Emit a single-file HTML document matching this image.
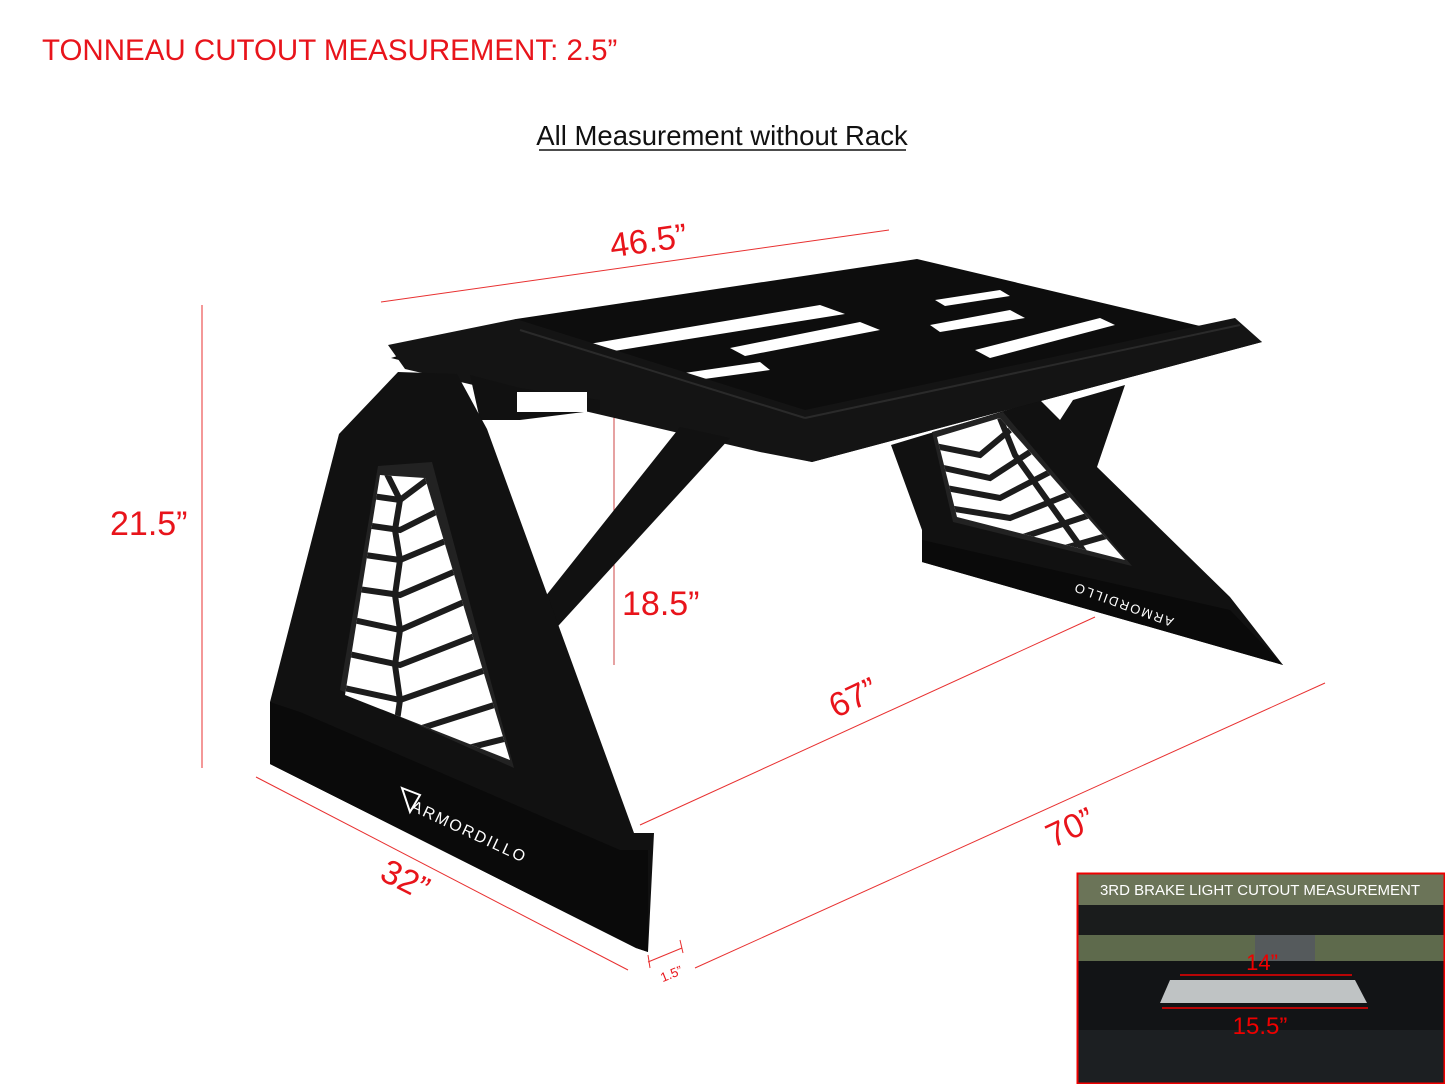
<!DOCTYPE html>
<html><head><meta charset="utf-8"><style>
html,body{margin:0;padding:0;background:#fff;}
svg{display:block;}
text{font-family:"Liberation Sans",sans-serif;}
</style></head><body>
<svg width="1445" height="1084" viewBox="0 0 1445 1084" xmlns="http://www.w3.org/2000/svg">
<rect width="1445" height="1084" fill="#fff"/>
<text x="42" y="60" font-size="29.5" fill="#e8141b">TONNEAU CUTOUT MEASUREMENT: 2.5”</text>
<text x="722" y="145" font-size="27.5" fill="#111" text-anchor="middle">All Measurement without Rack</text>
<line x1="539" y1="150" x2="906" y2="150" stroke="#111" stroke-width="1.5"/>

<g stroke="#e83030" stroke-width="1" fill="none">
<line x1="381" y1="302" x2="889" y2="230"/>
<line x1="202" y1="305" x2="202" y2="768"/>
<line x1="614" y1="415" x2="614" y2="665" stroke="#c44"/>
<line x1="640" y1="825" x2="1095" y2="617"/>
<line x1="695" y1="968" x2="1325" y2="683"/>
<line x1="256" y1="777" x2="628" y2="970"/>
<line x1="648" y1="962" x2="682" y2="948"/>
<line x1="648" y1="955" x2="650" y2="968"/><line x1="680" y1="940" x2="683" y2="953"/>
</g>
<g fill="#e8141b" font-size="34">
<text x="650" y="252" text-anchor="middle" transform="rotate(-8 650 252)">46.5”</text>
<text x="110" y="535">21.5”</text>
<text x="622" y="615">18.5”</text>
<text x="858" y="708" text-anchor="middle" transform="rotate(-25 858 708)">67”</text>
<text x="1075" y="838" text-anchor="middle" transform="rotate(-25 1075 838)">70”</text>
<text x="400" y="890" text-anchor="middle" transform="rotate(27 400 890)">32”</text>
<text x="673" y="978" font-size="13" text-anchor="middle" transform="rotate(-22 673 978)">1.5”</text>
</g>

<!-- right leg (behind) -->
<polygon points="891,445 1040,400 1060,420 1073,400 1125,385 1097,467 1230,597 1283,665 922,562 922,530" fill="#111"/>
<polygon points="922,540 1230,610 1283,665 922,562" fill="#0a0a0a"/>
<polygon points="932,432 1003,412 1132,566 953,522" fill="#222"/>
<clipPath id="cr"><polygon points="937,437 1000,418 1125,560 957,517"/></clipPath>
<g clip-path="url(#cr)">
<rect x="930" y="405" width="200" height="165" fill="#fff"/>
<g stroke="#1c1c1c" stroke-width="6" fill="none">
<path d="M930,445 L980,455 L1010,430"/>
<path d="M930,465 L990,478 L1030,452"/>
<path d="M930,485 L1000,498 L1050,472"/>
<path d="M930,505 L1010,518 L1070,494"/>
<path d="M930,525 L1020,538 L1090,515"/>
<path d="M930,545 L1030,558 L1110,535"/>
<path d="M1000,418 L1015,455 L1040,490 L1065,525 L1090,560"/>
</g>
</g>
<text x="1118" y="598" font-size="13" fill="#fff" transform="rotate(200 1118 598) translate(-60 0)" letter-spacing="2">ARMORDILLO</text>

<!-- rack top frame -->
<polygon points="516,319 917,259 1259,340 1262,342 812,462 391,358" fill="#0d0d0d"/>
<g fill="#fff">
<polygon points="583,345 820,305 845,314 608,352"/>
<polygon points="650,378 760,362 770,370 660,385"/>
<polygon points="930,325 1010,310 1025,318 940,332"/>
<polygon points="975,350 1100,318 1115,325 990,358"/>
<polygon points="730,348 860,322 880,330 745,356"/>
<polygon points="935,300 1000,290 1010,296 945,306"/>
</g>
<polygon points="388,345 516,319 805,410 1235,318 1262,342 812,462 760,452 405,369" fill="#141414"/>
<line x1="520" y1="330" x2="805" y2="418" stroke="#2a2a2a" stroke-width="2"/>
<line x1="805" y1="418" x2="1240" y2="325" stroke="#2a2a2a" stroke-width="2"/>

<polygon points="470,375 520,388 600,400 600,410 520,420 480,420" fill="#111"/>
<rect x="517" y="392" width="70" height="20" fill="#fff"/>

<polygon points="680,427 730,438 549,636 529,617" fill="#111"/>

<!-- left upright -->
<polygon points="339,434 398,372 457,374 487,429 634,833 654,833 648,952 636,948 270,764 270,702" fill="#111"/>
<polygon points="270,702 300,712 620,850 648,850 648,952 636,948 270,764" fill="#0a0a0a"/>
<polygon points="378,466 432,462 514,768 340,690" fill="#222"/>
<clipPath id="cl"><polygon points="380,475 425,478 510,760 345,695"/></clipPath>
<g clip-path="url(#cl)">
<rect x="330" y="460" width="200" height="310" fill="#fff"/>
<g stroke="#1c1c1c" stroke-width="6" fill="none">
<path d="M330,490 L400,500 L440,470"/>
<path d="M330,520 L400,530 L450,505"/>
<path d="M330,550 L400,560 L460,535"/>
<path d="M330,585 L400,595 L470,565"/>
<path d="M330,615 L400,630 L480,595"/>
<path d="M330,650 L400,665 L490,630"/>
<path d="M330,685 L400,700 L500,665"/>
<path d="M330,720 L400,735 L510,700"/>
<path d="M330,750 L400,765 L520,735"/>
<path d="M385,470 L400,500 L395,530 L400,560 L395,595 L400,630 L395,665 L400,700 L395,735"/>
<path d="M430,470 L440,510 L450,540 L460,570 L470,600 L480,635 L490,665 L500,700 L510,735"/>
</g>
</g>
<text x="410" y="810" font-size="16" fill="#fff" transform="rotate(25 410 810)" letter-spacing="2">ARMORDILLO</text>
<polygon points="402,788 420,795 410,812" fill="none" stroke="#fff" stroke-width="2"/>

<!-- inset -->
<rect x="1077" y="873" width="368" height="211" fill="#5a6448"/>
<rect x="1077" y="873" width="368" height="35" fill="#6b7458"/>
<rect x="1077" y="905" width="368" height="30" fill="#1a1c1c"/>
<rect x="1077" y="935" width="368" height="28" fill="#5e6a4c"/>
<rect x="1255" y="935" width="60" height="28" fill="#555a5c"/>
<rect x="1077" y="961" width="368" height="123" fill="#121416"/>
<rect x="1077" y="1030" width="368" height="54" fill="#1c1f22"/>
<polygon points="1170,980 1355,980 1367,1003 1160,1003" fill="#bfc3c4"/>
<line x1="1180" y1="975" x2="1352" y2="975" stroke="#e00" stroke-width="1.5"/>
<line x1="1162" y1="1008" x2="1368" y2="1008" stroke="#e00" stroke-width="1.5"/>
<text x="1262" y="970" font-size="22" fill="#e00" text-anchor="middle">14”</text>
<text x="1260" y="1034" font-size="24" fill="#e00" text-anchor="middle">15.5”</text>
<text x="1260" y="895" font-size="15" fill="#fff" text-anchor="middle">3RD BRAKE LIGHT CUTOUT MEASUREMENT</text>
<rect x="1077.5" y="873.5" width="367" height="210" fill="none" stroke="#e00" stroke-width="2"/>
</svg>
</body></html>
